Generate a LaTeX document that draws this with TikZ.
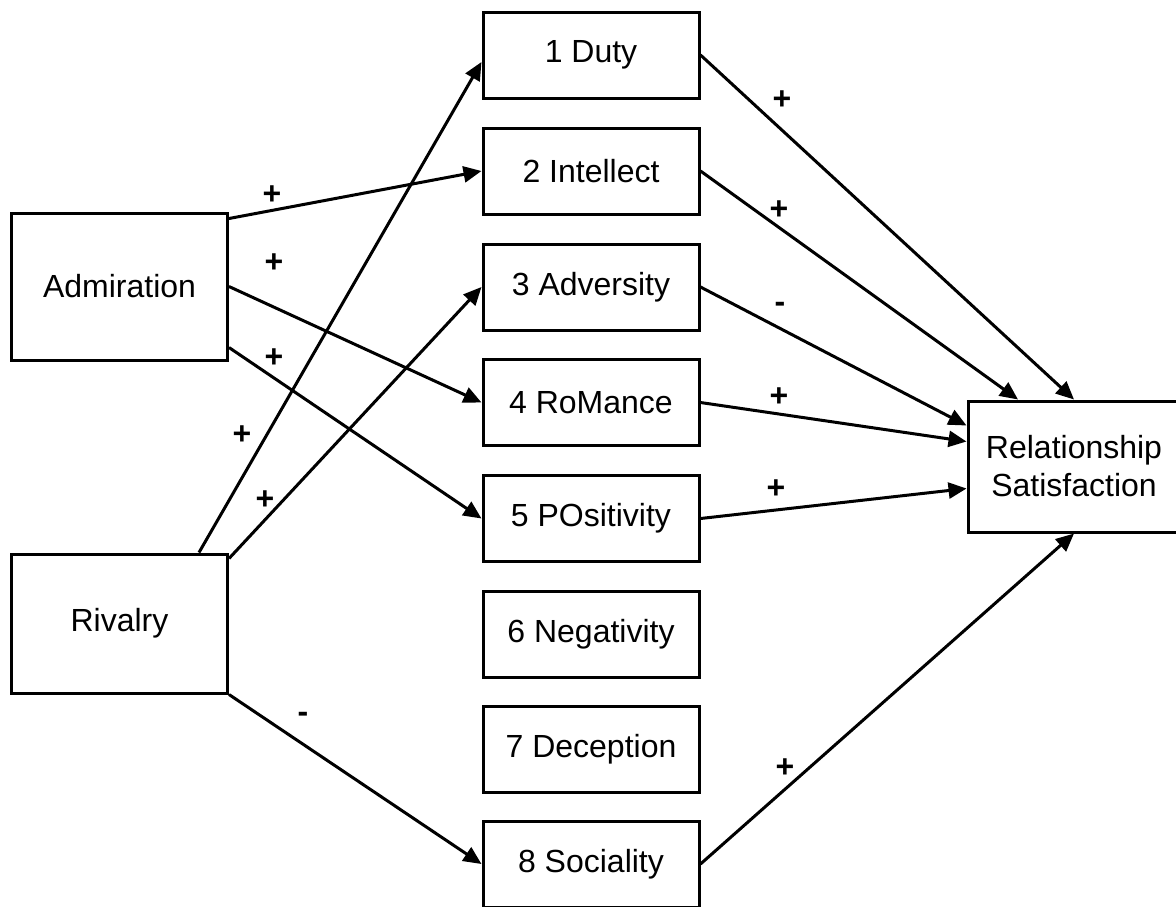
\documentclass[tikz,border=0pt]{standalone}
\usepackage{fontspec}
\setmainfont{Liberation Sans}
\usetikzlibrary{shapes,arrows.meta}

\tikzset{
  box/.style={draw, line width=1.5pt, rectangle, minimum width=108pt, minimum height=43pt, inner sep=0pt, font=\fontsize{16}{19}\selectfont, align=center},
  path/.style={line width=1.5pt, -{Triangle[length=9pt, width=8pt]}},
  sign/.style={font=\bfseries\fontsize{16}{19}\selectfont, inner sep=0pt}
}

\begin{document}
\begin{tikzpicture}[x=0.5pt, y=-0.5pt]
      \useasboundingbox (0,0) rectangle (1176,906);

      \node[box, minimum height=73.5pt] (adm) at (119.5,286.5) {Admiration};
      \node[box, minimum height=69.5pt] (riv) at (119.5,623.5) {Rivalry};

      \node[box] (duty) at (591,55) {1 Duty};
      \node[box] (int) at (591,171) {2 Intellect};
      \node[box] (adv) at (591,287) {3 Adversity};
      \node[box] (rom) at (591,402.5) {4 RoMance};
      \node[box] (pos) at (591,518.5) {5 POsitivity};
      \node[box] (neg) at (591,634) {6 Negativity};
      \node[box] (dec) at (591,749) {7 Deception};
      \node[box] (soc) at (591,864) {8 Sociality};

      \node[box, minimum width=106pt, minimum height=65.5pt] (rs) at (1074,466.5) {Relationship\\Satisfaction};

      % predictors -> strategies
      \draw[path] ([yshift=34pt]adm.east) -- (int.west);
      \draw[path] (adm.east) -- (rom.west);
      \draw[path] ([yshift=-30.5pt]adm.east) -- (pos.west);
      \draw[path] ([xshift=-15pt]riv.north east) -- ([yshift=-3.5pt]duty.west);
      \draw[path] ([yshift=-3pt]riv.north east) -- (adv.west);
      \draw[path] (riv.south east) -- (soc.west);

      % strategies -> satisfaction
      \draw[path] (duty.east) -- (rs.north);
      \draw[path] (int.east) -- ([xshift=-28pt]rs.north);
      \draw[path] (adv.east) -- ([yshift=20.5pt]rs.west);
      \draw[path] (rom.east) -- ([yshift=12.5pt]rs.west);
      \draw[path] (pos.east) -- ([yshift=-11pt]rs.west);
      \draw[path] (soc.east) -- (rs.south);

      \node[sign] (s1) at (272,195) {+};
      \node[sign] (s2) at (274,263) {+};
      \node[sign] (s3) at (274,358) {+};
      \node[sign] (s4) at (242,435) {+};
      \node[sign] (s5) at (265,500) {+};
      \node[sign] (s6) at (303,717) {-};
      \node[sign] (s7) at (782,100) {+};
      \node[sign] (s8) at (779,210) {+};
      \node[sign] (s9) at (780,307) {-};
      \node[sign] (s10) at (779,397) {+};
      \node[sign] (s11) at (776,489) {+};
      \node[sign] (s12) at (785,768) {+};
\end{tikzpicture}
\end{document}
